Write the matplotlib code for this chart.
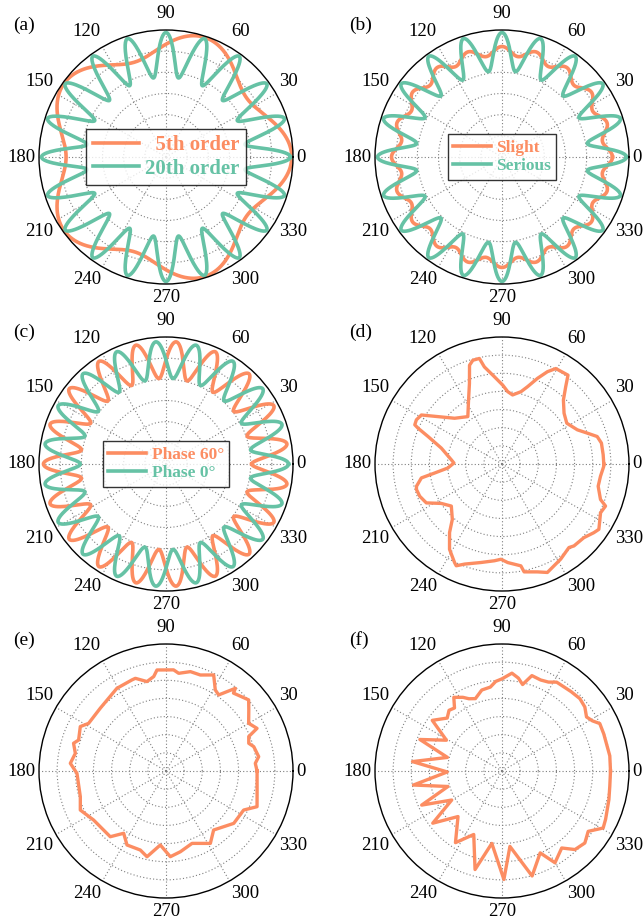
import numpy as np
import matplotlib.pyplot as plt
from matplotlib.ticker import FixedLocator

plt.rcParams['font.family'] = ['Liberation Serif', 'DejaVu Serif']

ORANGE = '#FC8D62'
GREEN = '#66C2A5'

# (a)-(c): harmonic profiles, r = mean + amp * cos(order * theta + phase)
a_labels = ['  5th order', '20th order']
a_order = [5, 20]
a_mean = [5.33, 4.83]
a_amp = [0.61, 1.05]
a_phase = [0, 0]

b_labels = ['Slight', 'Serious']
b_order = [20, 20]
b_mean = [5.01, 4.98]
b_amp = [0.21, 0.90]
b_phase = [0, 0]

c_labels = ['Phase 60°', 'Phase 0°']
c_order = [19, 19]
c_mean = [4.92, 4.92]
c_amp = [0.87, 0.87]
c_phase = [180, 0]

# (d)-(f): measured profiles, angle in degrees / radius
d_angle = [0, 5.2, 11.9, 16.1, 19.9, 24.4, 32.2, 39.3, 46.2, 50.5, 53.4, 60.6, 63.8,
           67.5, 71.7, 75.3, 81.3, 85.5, 89.5, 95.0, 100.3, 102.1, 105.7, 108.2, 112.0,
           117.6, 125.8, 136.0, 143.5, 148.7, 152.7, 155.8, 156.9, 159.6, 165.3, 175.1,
           178.8, 184.2, 187.6, 189.8, 194.6, 196.6, 201.4, 207.2, 213.0, 219.7, 228.1,
           232.6, 238.4, 244.3, 245.8, 249.5, 258.0, 265.5, 269.4, 273.3, 280.5, 281.6,
           288.2, 292.7, 297.1, 301.7, 308.7, 311.3, 318.0, 323.2, 326.0, 333.7, 337.9,
           340.2, 347.0, 352.9, 358.7]
d_radius = [5.61, 5.60, 5.60, 5.46, 5.00, 4.56, 4.22, 4.42, 4.89, 5.52, 6.10, 6.04, 5.67,
            5.11, 4.49, 4.12, 3.85, 4.00, 4.35, 4.83, 5.44, 5.95, 5.94, 5.73, 4.79,
            3.98, 3.22, 3.63, 4.39, 5.20, 5.31, 5.27, 5.03, 4.35, 3.46, 2.81,
            2.65, 2.99, 3.74, 4.51, 4.87, 4.92, 4.87, 4.69, 3.99, 3.63, 4.10,
            4.76, 5.52, 6.03, 6.15, 5.89, 5.55, 5.35, 5.25, 5.44, 5.71, 6.07,
            6.26, 6.48, 6.30, 6.16, 5.90, 6.01, 6.07, 6.32, 6.44, 6.06, 6.16,
            5.77, 5.44, 5.47, 5.61]

e_angle = [0, 4.9, 8.8, 15.5, 18.5, 22.6, 25.1, 30.0, 36.4, 40.7, 49.1, 50.0, 55.3, 58.7,
           63.6, 70.3, 76.2, 82.6, 85.7, 95.1, 97.4, 102.0, 108.3, 110.5, 120.7, 136.3,
           148.4, 152.6, 160.5, 163.3, 169.0, 175.4, 181.5, 196.7, 204.5, 214.1, 229.7,
           235.8, 242.2, 252.0, 257.5, 265.6, 272.9, 280.1, 289.8, 301.5, 308.9, 322.3,
           333.3, 338.6, 348.2]
e_radius = [5.02, 4.94, 5.17, 5.02, 4.81, 4.94, 5.54, 5.26, 5.67, 6.01, 5.68, 5.95, 5.10, 5.23,
            5.91, 5.62, 5.64, 5.43, 5.59, 5.59, 5.25, 5.04, 5.38, 5.36, 5.30, 5.01,
            5.01, 5.32, 5.11, 5.32, 5.09, 5.29, 4.91, 4.93, 5.19, 4.82, 4.75,
            4.15, 4.61, 4.58, 4.84, 4.09, 4.73, 4.52, 4.24, 4.68, 4.18, 4.72,
            4.79, 5.39, 5.13]

f_angle = [0, 8, 14.8, 20, 25.9, 29, 32.6, 37.7, 42.9, 49, 55.1, 58.4, 62.4, 67, 72.6,
           76.6, 80, 84.2, 90, 94, 97.9, 104, 110.2, 114.6, 118, 123.2, 127, 131.1, 136,
           144, 151, 159, 166, 174, 181, 189, 196, 203, 210, 217, 226, 237, 246, 254.7,
           262, 271, 276, 286, 295, 300, 307.8, 312.9, 319, 325, 330.6, 335, 345, 352]
f_radius = [5.98, 6.00, 5.95, 5.97, 5.99, 5.70, 5.53, 5.77, 5.86, 5.80, 5.75, 5.75, 5.53,
            5.45, 5.51, 4.90, 5.20, 5.42, 5.08, 4.95, 4.67, 4.60, 4.25, 4.38, 4.60, 4.85,
            4.35, 4.44, 4.20, 4.75, 3.50, 4.85, 3.10, 4.96, 3.02, 4.94, 3.10, 4.81, 3.20,
            4.78, 3.49, 4.71, 3.83, 5.63, 4.03, 5.98, 4.18, 6.02, 4.98, 5.84, 5.37, 5.91,
            6.05, 5.80, 6.40, 6.30, 6.10, 6.00]

theta = np.linspace(0, 2 * np.pi, 1441)


def harmonic(order, mean, amp, phase):
    return mean + amp * np.cos(order * theta + np.deg2rad(phase))


def closed(angle, radius):
    t = np.deg2rad(np.append(angle, angle[0]))
    return t, np.append(radius, radius[0])


def style_polar(ax, rmax, rings):
    ax.set_ylim(0, rmax)
    ax.set_yticks(np.arange(1, rings) * rmax / rings)
    ax.set_yticklabels([])
    ax.set_xticks(np.deg2rad(np.arange(0, 360, 30)))
    ax.set_xticklabels([])
    ax.xaxis.set_minor_locator(FixedLocator(np.deg2rad(np.arange(15, 360, 30))))
    ax.grid(True, color='#7f7f7f', linestyle=(0, (1, 2)), linewidth=0.8)
    ax.tick_params(axis='x', which='both', direction='in')
    ax.tick_params(axis='x', which='major', length=5, width=0.8)
    ax.tick_params(axis='x', which='minor', length=3, width=0.8)
    ax.tick_params(axis='y', length=0)
    ax.spines['polar'].set_linewidth(1.0)

    # angle labels sit just outside the rim, anchored by their nearest edge
    for deg in range(0, 360, 30):
        t = np.deg2rad(deg)
        c, s = np.cos(t), np.sin(t)
        ha = 'left' if c > 0.1 else 'right' if c < -0.1 else 'center'
        va = 'bottom' if s > 0.1 else 'top' if s < -0.1 else 'center'
        dy = (8 if s > 0 else 5) * s
        ax.annotate(str(deg), (t, rmax), xytext=(3 * c, dy), textcoords='offset pixels',
                    ha=ha, va=va, fontsize=13.5, annotation_clip=False)


def add_legend(ax, size):
    leg = ax.legend(loc='center', frameon=True, fancybox=False, handlelength=2.2,
                    handletextpad=0.3, borderpad=0.3, labelspacing=0.15,
                    prop={'weight': 'bold', 'size': size})
    leg.get_frame().set_edgecolor('black')
    leg.get_frame().set_linewidth(1.0)
    for txt, line in zip(leg.get_texts(), leg.get_lines()):
        txt.set_color(line.get_color())
    return leg


fig = plt.figure(figsize=(6.44, 9.23), dpi=100)
W, H = 644, 923
R = 127
cxs = [166, 502]
cys = [157, 464, 771]
axes = []
for row in range(3):
    for col in range(2):
        left = (cxs[col] - R) / W
        bottom = 1 - (cys[row] + R) / H
        axes.append(fig.add_axes([left, bottom, 2 * R / W, 2 * R / H], projection='polar'))

groups = [(a_labels, a_order, a_mean, a_amp, a_phase, 15),
          (b_labels, b_order, b_mean, b_amp, b_phase, 12.5),
          (c_labels, c_order, c_mean, c_amp, c_phase, 12.5)]
for ax, (labels, order, mean, amp, phase, size) in zip(axes[:3], groups):
    style_polar(ax, 6, 6)
    for i, color in enumerate([ORANGE, GREEN]):
        ax.plot(theta, harmonic(order[i], mean[i], amp[i], phase[i]), color=color,
                lw=2.6, label=labels[i])
    add_legend(ax, size)

for ax, (ang, rad) in zip(axes[3:], [(d_angle, d_radius), (e_angle, e_radius),
                                     (f_angle, f_radius)]):
    style_polar(ax, 7, 7)
    t, r = closed(ang, rad)
    ax.plot(t, r, color=ORANGE, lw=2.4, solid_joinstyle='round')

for i, tag in enumerate('abcdef'):
    x = [13, 349][i % 2]
    y = [25, 332, 640][i // 2]
    fig.text(x / W, 1 - y / H, f'({tag})', fontsize=14, va='center', ha='left')

fig.savefig('out.png', dpi=100)
